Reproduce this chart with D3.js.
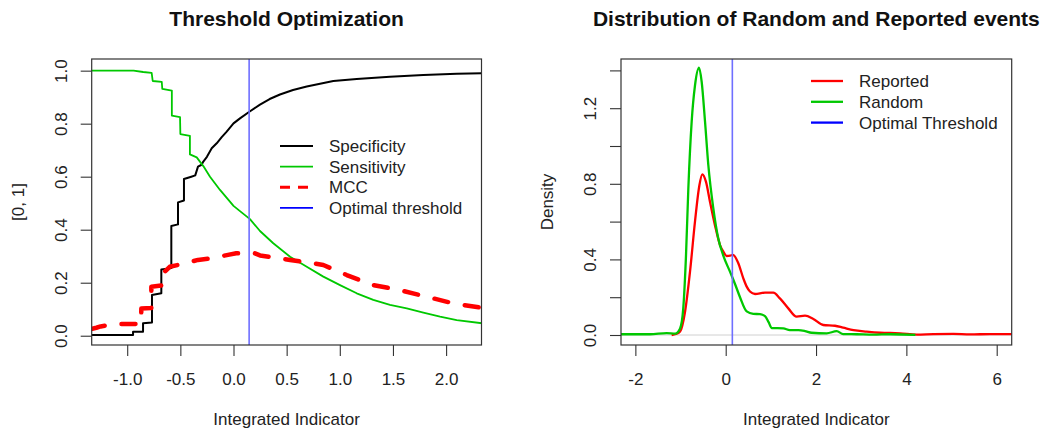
<!DOCTYPE html>
<html>
<head>
<meta charset="utf-8">
<script src="https://cdn.jsdelivr.net/npm/d3@7"></script>
<style>
  html, body { margin: 0; padding: 0; background: #fff; }
  svg { display: block; font-family: "Liberation Sans", Arial, Helvetica, sans-serif; }
</style>
</head>
<body>
<svg id="chart" width="1044" height="434"></svg>
<script>
// ---- Threshold optimization curves (x = integrated indicator) ----
const specX = [-1.34, -0.945, -0.945, -0.851, -0.851, -0.767, -0.767, -0.679, -0.679, -0.585, -0.585, -0.522, -0.522, -0.466, -0.466, -0.397, -0.36, -0.334, -0.30, -0.284, -0.25, -0.205, -0.158, -0.111, -0.064, 0.0, 0.061, 0.149, 0.249, 0.34, 0.437, 0.56, 0.689, 0.939, 1.159, 1.472, 1.786, 2.10, 2.34];
const specY = [0.003, 0.003, 0.015, 0.015, 0.047, 0.050, 0.154, 0.160, 0.250, 0.255, 0.414, 0.420, 0.503, 0.510, 0.591, 0.600, 0.605, 0.638, 0.645, 0.657, 0.675, 0.707, 0.726, 0.749, 0.770, 0.801, 0.820, 0.845, 0.872, 0.893, 0.910, 0.927, 0.940, 0.961, 0.969, 0.977, 0.984, 0.988, 0.990];

const sensX = [-1.34, -0.94, -0.85, -0.77, -0.76, -0.675, -0.67, -0.58, -0.58, -0.503, -0.50, -0.41, -0.41, -0.346, -0.284, -0.221, -0.127, 0.0, 0.061, 0.155, 0.249, 0.374, 0.532, 0.689, 0.845, 1.002, 1.159, 1.315, 1.472, 1.63, 1.786, 1.943, 2.10, 2.34];
const sensY = [1.0, 1.0, 0.995, 0.992, 0.961, 0.958, 0.931, 0.925, 0.830, 0.825, 0.761, 0.754, 0.684, 0.673, 0.640, 0.600, 0.550, 0.490, 0.470, 0.440, 0.395, 0.349, 0.298, 0.260, 0.223, 0.191, 0.160, 0.135, 0.116, 0.103, 0.087, 0.072, 0.059, 0.047];

const mccX = [-1.34, -1.29, -1.25, -1.12, -0.93, -0.87, -0.867, -0.773, -0.773, -0.663, -0.663, -0.60, -0.49, -0.334, -0.209, -0.052, 0.026, 0.199, 0.249, 0.532, 0.845, 1.065, 1.315, 1.566, 1.818, 2.068, 2.34];
const mccY = [0.025, 0.030, 0.035, 0.044, 0.044, 0.045, 0.103, 0.105, 0.185, 0.190, 0.235, 0.260, 0.270, 0.286, 0.292, 0.305, 0.311, 0.311, 0.303, 0.286, 0.267, 0.229, 0.191, 0.172, 0.147, 0.122, 0.105];

const optimalThreshold = 0.147;

const leftXTicks = [-1.0, -0.5, 0.0, 0.5, 1.0, 1.5, 2.0];
const leftXLabels = ["-1.0", "-0.5", "0.0", "0.5", "1.0", "1.5", "2.0"];
const leftYTicks = [0.0, 0.2, 0.4, 0.6, 0.8, 1.0];
const leftYLabels = ["0.0", "0.2", "0.4", "0.6", "0.8", "1.0"];

// ---- Kernel density estimates ----
const reportedX = [-1.196, -1.10, -1.01, -0.90, -0.79, -0.68, -0.584, -0.518, -0.436, -0.348, -0.237, -0.126, -0.05, 0.02, 0.10, 0.16, 0.279, 0.39, 0.465, 0.538, 0.649, 0.87, 1.054, 1.20, 1.386, 1.57, 1.756, 1.94, 2.16, 2.42, 2.60, 2.83, 3.12, 3.42, 3.86, 4.23, 4.60, 5.04, 5.41, 5.85, 6.40];
const reportedY = [0.0, 0.005, 0.018, 0.123, 0.335, 0.600, 0.790, 0.850, 0.810, 0.705, 0.580, 0.476, 0.440, 0.418, 0.420, 0.424, 0.380, 0.300, 0.256, 0.230, 0.217, 0.224, 0.224, 0.194, 0.141, 0.097, 0.102, 0.085, 0.053, 0.049, 0.039, 0.026, 0.018, 0.012, 0.009, 0.002, 0.005, 0.006, 0.003, 0.005, 0.005];

const randomX = [-2.40, -1.676, -1.306, -1.12, -1.01, -0.94, -0.879, -0.827, -0.753, -0.68, -0.591, -0.532, -0.458, -0.385, -0.274, -0.164, -0.053, 0.095, 0.206, 0.317, 0.465, 0.611, 0.76, 0.87, 0.95, 1.018, 1.276, 1.42, 1.61, 1.756, 1.90, 2.236, 2.457, 2.60, 2.90, 3.27, 3.64, 4.20];
const randomY = [0.004, 0.004, 0.010, 0.007, 0.035, 0.140, 0.420, 0.776, 1.130, 1.320, 1.414, 1.340, 1.130, 0.900, 0.670, 0.510, 0.420, 0.335, 0.270, 0.200, 0.125, 0.112, 0.110, 0.100, 0.068, 0.037, 0.035, 0.026, 0.026, 0.021, 0.012, 0.009, 0.020, 0.005, 0.004, 0.002, 0.004, 0.001];

const rightXTicks = [-2, 0, 2, 4, 6];
const rightXLabels = ["-2", "0", "2", "4", "6"];
const rightYTicks = [0.0, 0.2, 0.4, 0.6, 0.8, 1.0, 1.2, 1.4];
const rightYLabels = ["0.0", "", "0.4", "", "0.8", "", "1.2", ""];

const COL = { black: "#000000", green: "#00C800", red: "#FF0000", blue: "#0000FF", thr: "#6f6fff", text: "#222222", box: "#333333" };
const FONT = 17;

const svg = d3.select("#chart");
const plotTop = 59, plotBottom = 345;

function panel(opts) {
  const g = svg.append("g");
  const x = d3.scaleLinear().domain(opts.xDomain).range([opts.left, opts.right]);
  const y = d3.scaleLinear().domain(opts.yDomain).range([plotBottom, plotTop]);

  const clipId = "clip-" + opts.id;
  svg.append("clipPath").attr("id", clipId)
    .append("rect").attr("x", opts.left).attr("y", plotTop)
    .attr("width", opts.right - opts.left).attr("height", plotBottom - plotTop);

  // x axis
  const xAxis = d3.axisBottom(x).tickValues(opts.xTicks)
    .tickFormat((d, i) => opts.xLabels[i]).tickSize(11).tickPadding(17);
  const gx = g.append("g").attr("transform", `translate(0,${plotBottom})`).call(xAxis);
  gx.select(".domain").remove();
  gx.selectAll(".tick line").attr("stroke", COL.box).attr("stroke-width", 1.1);
  gx.selectAll(".tick text").attr("fill", COL.text).style("font-size", FONT + "px")
    .style("font-family", "Liberation Sans, Arial, sans-serif");

  // y axis with rotated labels
  const yAxis = d3.axisLeft(y).tickValues(opts.yTicks)
    .tickFormat((d, i) => opts.yLabels[i]).tickSize(11);
  const gy = g.append("g").attr("transform", `translate(${opts.left},0)`).call(yAxis);
  gy.select(".domain").remove();
  gy.selectAll(".tick line").attr("stroke", COL.box).attr("stroke-width", 1.1);
  gy.selectAll(".tick text")
    .attr("x", null).attr("dy", null)
    .attr("transform", "translate(-25,0) rotate(-90)")
    .attr("text-anchor", "middle")
    .attr("fill", COL.text).style("font-size", FONT + "px")
    .style("font-family", "Liberation Sans, Arial, sans-serif");

  // plot contents
  const plot = g.append("g").attr("clip-path", `url(#${clipId})`);
  if (opts.zeroLine) {
    plot.append("line").attr("x1", opts.left).attr("x2", opts.right)
      .attr("y1", y(0)).attr("y2", y(0)).attr("stroke", "#d0d0d0").attr("stroke-width", 1);
  }
  opts.series.forEach(s => {
    const pts = s.xs.map((v, i) => [v, s.ys[i]]);
    const line = d3.line().x(d => x(d[0])).y(d => y(d[1])).curve(s.curve || d3.curveLinear);
    plot.append("path").datum(pts).attr("d", line)
      .attr("fill", "none").attr("stroke", s.color).attr("stroke-width", s.width)
      .attr("stroke-linejoin", "round").attr("stroke-linecap", s.dash ? "round" : "butt")
      .attr("stroke-dasharray", s.dash || null);
  });
  plot.append("line").attr("x1", x(opts.threshold)).attr("x2", x(opts.threshold))
    .attr("y1", plotTop).attr("y2", plotBottom).attr("stroke", COL.thr).attr("stroke-width", 1.6);

  // frame
  g.append("rect").attr("x", opts.left).attr("y", plotTop)
    .attr("width", opts.right - opts.left).attr("height", plotBottom - plotTop)
    .attr("fill", "none").attr("stroke", COL.box).attr("stroke-width", 1.2);

  // titles
  const cx = (opts.left + opts.right) / 2;
  g.append("text").attr("x", cx).attr("y", 25.5).attr("text-anchor", "middle")
    .attr("fill", "#111").style("font-size", "21px").style("font-weight", "bold").text(opts.title);
  g.append("text").attr("x", cx).attr("y", 425).attr("text-anchor", "middle")
    .attr("fill", COL.text).style("font-size", FONT + "px").text(opts.xTitle);
  g.append("text").attr("transform", `translate(${opts.left - 68},${(plotTop + plotBottom) / 2}) rotate(-90)`)
    .attr("text-anchor", "middle").attr("fill", COL.text).style("font-size", FONT + "px").text(opts.yTitle);

  // legend
  opts.legend.items.forEach((it, i) => {
    const ly = opts.legend.y + i * opts.legend.step;
    g.append("line").attr("x1", opts.legend.x1).attr("x2", opts.legend.x2)
      .attr("y1", ly).attr("y2", ly).attr("stroke", it.color).attr("stroke-width", it.width)
      .attr("stroke-dasharray", it.dash || null);
    g.append("text").attr("x", opts.legend.tx).attr("y", ly).attr("dy", "0.35em")
      .attr("fill", COL.text).style("font-size", FONT + "px").text(it.label);
  });
}

panel({
  id: "opt", left: 91.7, right: 481.5,
  xDomain: [-1.334, 2.333], yDomain: [-0.035, 1.044],
  xTicks: leftXTicks, xLabels: leftXLabels, yTicks: leftYTicks, yLabels: leftYLabels,
  threshold: optimalThreshold,
  title: "Threshold Optimization", xTitle: "Integrated Indicator", yTitle: "[0, 1]",
  series: [
    { xs: specX, ys: specY, color: COL.black, width: 2 },
    { xs: sensX, ys: sensY, color: COL.green, width: 1.8 },
    { xs: mccX, ys: mccY, color: COL.red, width: 4.5, dash: "14,17" }
  ],
  legend: {
    x1: 280, x2: 313, tx: 329, y: 146, step: 20.6,
    items: [
      { label: "Specificity", color: COL.black, width: 1.8 },
      { label: "Sensitivity", color: COL.green, width: 1.8 },
      { label: "MCC", color: COL.red, width: 3, dash: "10,8" },
      { label: "Optimal threshold", color: COL.blue, width: 1.8 }
    ]
  }
});

panel({
  id: "dens", left: 621, right: 1011.7,
  xDomain: [-2.318, 6.332], yDomain: [-0.0529, 1.4603],
  xTicks: rightXTicks, xLabels: rightXLabels, yTicks: rightYTicks, yLabels: rightYLabels,
  threshold: optimalThreshold, zeroLine: true,
  title: "Distribution of Random and Reported events", xTitle: "Integrated Indicator", yTitle: "Density",
  series: [
    { xs: reportedX, ys: reportedY, color: COL.red, width: 2.3, curve: d3.curveMonotoneX },
    { xs: randomX, ys: randomY, color: COL.green, width: 2.3, curve: d3.curveMonotoneX }
  ],
  legend: {
    x1: 811, x2: 843, tx: 859, y: 81, step: 20.8,
    items: [
      { label: "Reported", color: COL.red, width: 2.3 },
      { label: "Random", color: COL.green, width: 2.3 },
      { label: "Optimal Threshold", color: COL.blue, width: 2.3 }
    ]
  }
});
</script>
</body>
</html>
